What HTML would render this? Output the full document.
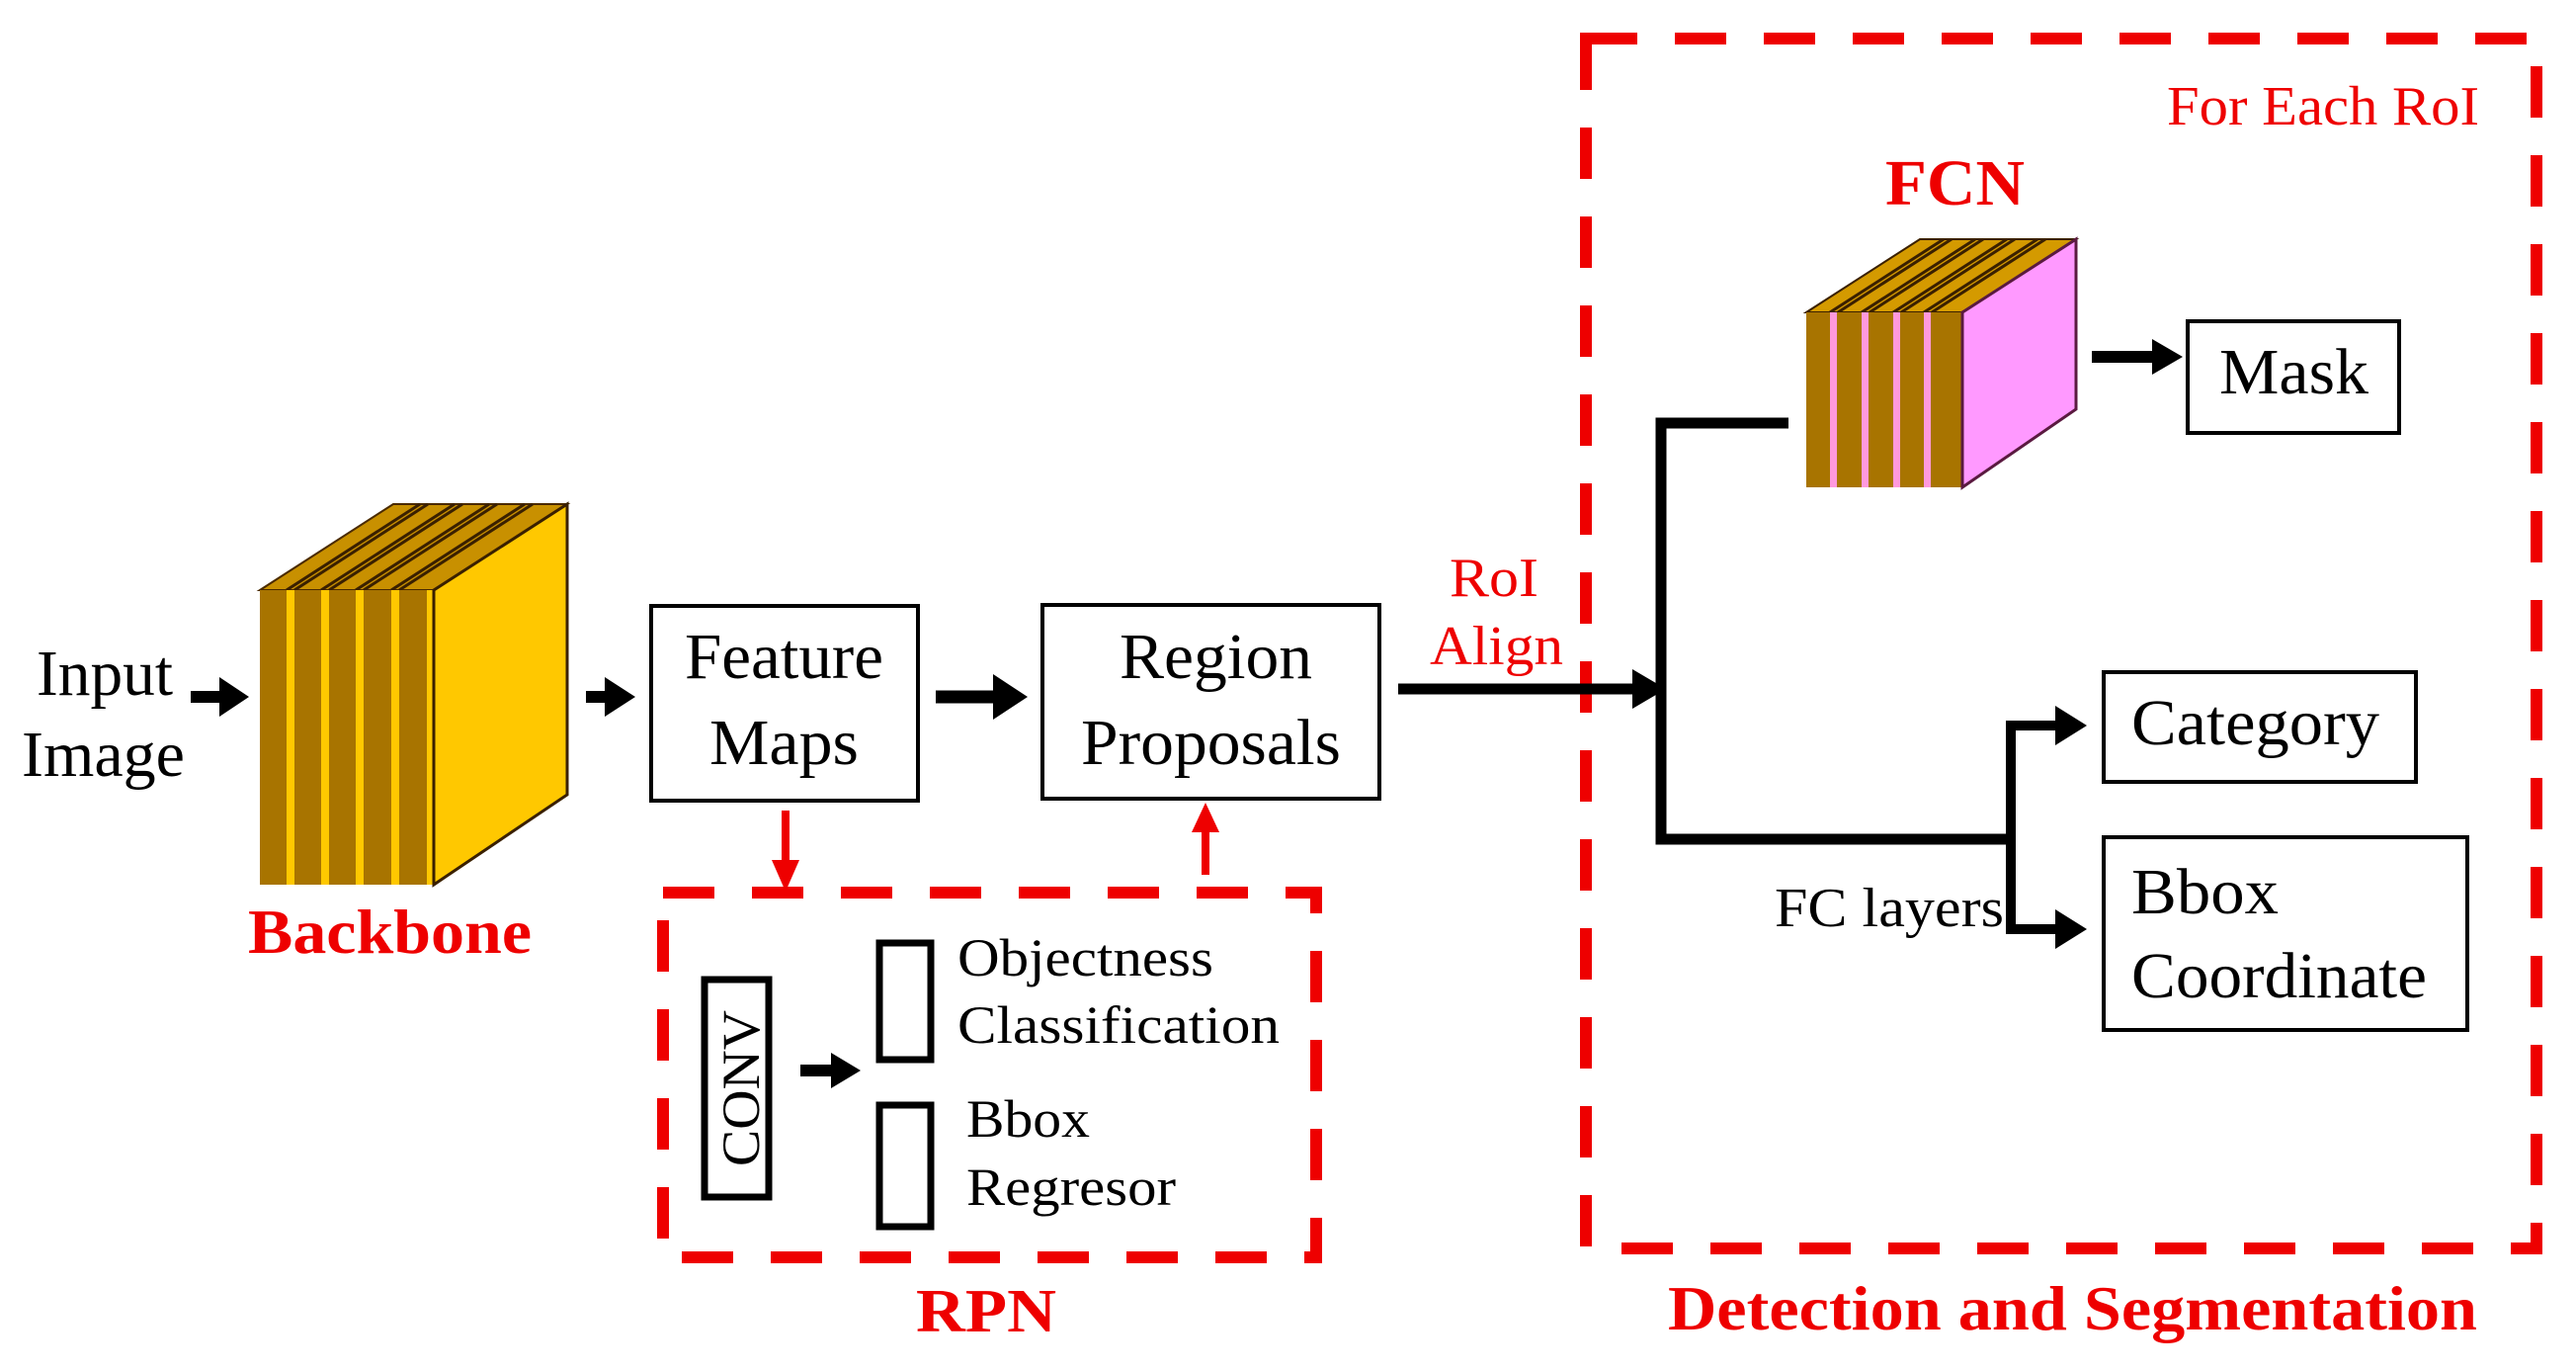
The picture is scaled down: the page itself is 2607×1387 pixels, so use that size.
<!DOCTYPE html>
<html><head><meta charset="utf-8"><style>
html,body{margin:0;padding:0;background:#fff;}
svg{display:block;}
text{font-family:"Liberation Serif",serif;}
</style></head><body>
<svg width="2607" height="1387" viewBox="0 0 2607 1387" xmlns="http://www.w3.org/2000/svg">
<rect width="2607" height="1387" fill="#fff"/>

<!-- Input Image -->
<text x="37" y="703" font-size="66" textLength="138" lengthAdjust="spacingAndGlyphs">Input</text>
<text x="22" y="785" font-size="66" textLength="165" lengthAdjust="spacingAndGlyphs">Image</text>
<line x1="193" y1="705" x2="230" y2="705" stroke="#000" stroke-width="12"/>
<polygon points="222,685 252,705 222,725" fill="#000"/>

<!-- Backbone -->
<polygon points="263,597 398,510 574,510 439,597" fill="#C89000" stroke="#4a2a00" stroke-width="2"/>
<g stroke="#3a2000" stroke-width="3">
<line x1="290" y1="597" x2="425" y2="510"/><line x1="298" y1="597" x2="433" y2="510"/>
<line x1="325" y1="597" x2="460" y2="510"/><line x1="333" y1="597" x2="468" y2="510"/>
<line x1="360" y1="597" x2="495" y2="510"/><line x1="368" y1="597" x2="503" y2="510"/>
<line x1="396" y1="597" x2="531" y2="510"/><line x1="404" y1="597" x2="539" y2="510"/>
</g>
<rect x="263" y="597" width="176" height="298" fill="#A87400"/>
<rect x="290" y="597" width="8" height="298" fill="#FFC800"/>
<rect x="325" y="597" width="8" height="298" fill="#FFC800"/>
<rect x="360" y="597" width="8" height="298" fill="#FFC800"/>
<rect x="396" y="597" width="8" height="298" fill="#FFC800"/>
<rect x="432" y="597" width="7" height="298" fill="#FFC800"/>
<polygon points="439,597 574,510 574,804 439,895" fill="#FFC800" stroke="#3a2000" stroke-width="3"/>
<text x="251" y="964" font-size="64" font-weight="bold" fill="#EE0000" textLength="287" lengthAdjust="spacingAndGlyphs">Backbone</text>

<line x1="593" y1="705" x2="620" y2="705" stroke="#000" stroke-width="12"/>
<polygon points="612,685 643,705 612,725" fill="#000"/>

<!-- Feature Maps -->
<rect x="659" y="613" width="270" height="197" fill="#fff" stroke="#000" stroke-width="4"/>
<text x="693" y="686" font-size="66" textLength="201" lengthAdjust="spacingAndGlyphs">Feature</text>
<text x="718" y="773" font-size="66" textLength="151" lengthAdjust="spacingAndGlyphs">Maps</text>

<line x1="947" y1="705" x2="1015" y2="705" stroke="#000" stroke-width="13"/>
<polygon points="1005,682 1040,705 1005,728" fill="#000"/>

<!-- Region Proposals -->
<rect x="1055" y="612" width="341" height="196" fill="#fff" stroke="#000" stroke-width="4"/>
<text x="1133" y="686" font-size="66" textLength="195" lengthAdjust="spacingAndGlyphs">Region</text>
<text x="1094" y="773" font-size="66" textLength="263" lengthAdjust="spacingAndGlyphs">Proposals</text>

<!-- Red arrows -->
<line x1="795" y1="820" x2="795" y2="875" stroke="#EE0000" stroke-width="8"/>
<polygon points="781,870 809,870 795,902" fill="#EE0000"/>
<line x1="1220" y1="885" x2="1220" y2="835" stroke="#EE0000" stroke-width="8"/>
<polygon points="1206,842 1234,842 1220,812" fill="#EE0000"/>

<!-- RPN box -->
<rect x="671" y="903" width="661" height="369" fill="none" stroke="#EE0000" stroke-width="12" stroke-dasharray="52 38"/>
<rect x="713" y="991" width="65" height="220" fill="none" stroke="#000" stroke-width="7"/>
<text transform="translate(768,1180) rotate(-90)" x="0" y="0" font-size="54" textLength="158" lengthAdjust="spacingAndGlyphs">CONV</text>
<line x1="810" y1="1083" x2="848" y2="1083" stroke="#000" stroke-width="12"/>
<polygon points="841,1065 871,1083 841,1101" fill="#000"/>
<rect x="890" y="954" width="52" height="118" fill="none" stroke="#000" stroke-width="7"/>
<rect x="890" y="1118" width="52" height="123" fill="none" stroke="#000" stroke-width="7"/>
<text x="969" y="987" font-size="54" textLength="259" lengthAdjust="spacingAndGlyphs">Objectness</text>
<text x="969" y="1055" font-size="54" textLength="326" lengthAdjust="spacingAndGlyphs">Classification</text>
<text x="978" y="1150" font-size="54" textLength="125" lengthAdjust="spacingAndGlyphs">Bbox</text>
<text x="978" y="1219" font-size="54" textLength="212" lengthAdjust="spacingAndGlyphs">Regresor</text>
<text x="927" y="1347" font-size="62" font-weight="bold" fill="#EE0000" textLength="142" lengthAdjust="spacingAndGlyphs">RPN</text>

<!-- RoI Align -->
<text x="1467" y="603" font-size="56" fill="#EE0000" textLength="90" lengthAdjust="spacingAndGlyphs">RoI</text>
<text x="1447" y="672" font-size="56" fill="#EE0000" textLength="135" lengthAdjust="spacingAndGlyphs">Align</text>

<!-- Detection box -->
<rect x="1605" y="39" width="962" height="1224" fill="none" stroke="#EE0000" stroke-width="12" stroke-dasharray="52 38"/>
<text x="2193" y="126" font-size="56" fill="#EE0000" textLength="316" lengthAdjust="spacingAndGlyphs">For Each RoI</text>
<text x="1908" y="207" font-size="66" font-weight="bold" fill="#EE0000" textLength="141" lengthAdjust="spacingAndGlyphs">FCN</text>
<text x="1688" y="1345" font-size="64" font-weight="bold" fill="#EE0000" textLength="819" lengthAdjust="spacingAndGlyphs">Detection and Segmentation</text>

<!-- connectors -->
<line x1="1415" y1="697" x2="1660" y2="697" stroke="#000" stroke-width="11"/>
<polygon points="1652,677 1686,697 1652,717" fill="#000"/>
<polyline points="1810,428 1681,428 1681,849 2035,849" fill="none" stroke="#000" stroke-width="11"/>
<polyline points="2090,734 2035,734 2035,940 2090,940" fill="none" stroke="#000" stroke-width="10"/>
<polygon points="2080,714 2112,734 2080,754" fill="#000"/>
<polygon points="2080,920 2112,940 2080,960" fill="#000"/>
<text x="1796" y="937" font-size="56" textLength="232" lengthAdjust="spacingAndGlyphs">FC layers</text>

<!-- FCN cube -->
<polygon points="1828,316 1943,242 2101,242 1986,316" fill="#D49A00" stroke="#3a2000" stroke-width="2"/>
<g stroke="#3a2000" stroke-width="3">
<line x1="1852" y1="316" x2="1967" y2="242"/><line x1="1860" y1="316" x2="1975" y2="242"/>
<line x1="1884" y1="316" x2="1999" y2="242"/><line x1="1892" y1="316" x2="2007" y2="242"/>
<line x1="1916" y1="316" x2="2031" y2="242"/><line x1="1924" y1="316" x2="2039" y2="242"/>
<line x1="1947" y1="316" x2="2062" y2="242"/><line x1="1955" y1="316" x2="2070" y2="242"/>
</g>
<rect x="1828" y="316" width="158" height="177" fill="#A87400"/>
<rect x="1852" y="316" width="7" height="177" fill="#FF99DD"/>
<rect x="1884" y="316" width="7" height="177" fill="#FF99DD"/>
<rect x="1916" y="316" width="7" height="177" fill="#FF99DD"/>
<rect x="1947" y="316" width="7" height="177" fill="#FF99DD"/>
<polygon points="1986,316 2101,242 2101,414 1986,493" fill="#FF99FF" stroke="#5a1a40" stroke-width="3"/>

<line x1="2117" y1="361" x2="2185" y2="361" stroke="#000" stroke-width="12"/>
<polygon points="2178,343 2209,361 2178,379" fill="#000"/>

<!-- Output boxes -->
<rect x="2214" y="325" width="214" height="113" fill="#fff" stroke="#000" stroke-width="4"/>
<text x="2246" y="398" font-size="66" textLength="151" lengthAdjust="spacingAndGlyphs">Mask</text>
<rect x="2129" y="680" width="316" height="111" fill="#fff" stroke="#000" stroke-width="4"/>
<text x="2157" y="753" font-size="66" textLength="251" lengthAdjust="spacingAndGlyphs">Category</text>
<rect x="2129" y="847" width="368" height="195" fill="#fff" stroke="#000" stroke-width="4"/>
<text x="2157" y="924" font-size="66" textLength="149" lengthAdjust="spacingAndGlyphs">Bbox</text>
<text x="2157" y="1009" font-size="66" textLength="299" lengthAdjust="spacingAndGlyphs">Coordinate</text>
</svg>
</body></html>
